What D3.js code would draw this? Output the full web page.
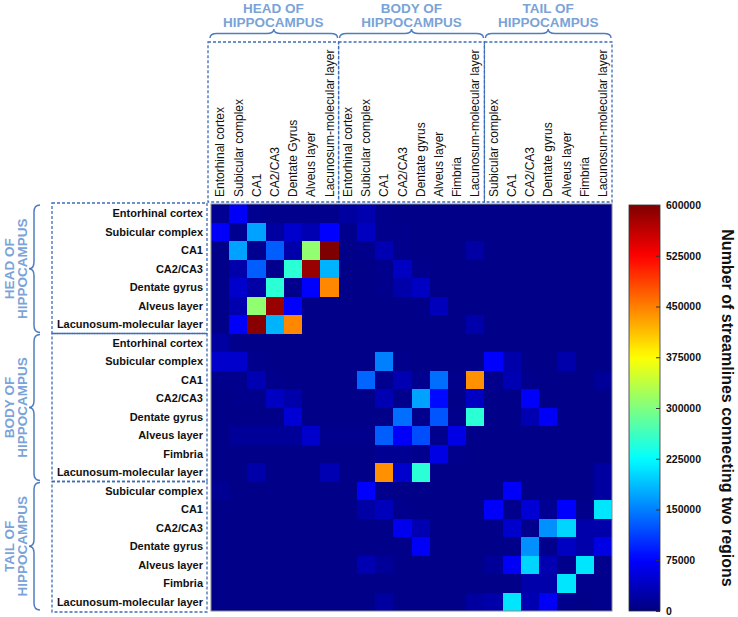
<!DOCTYPE html>
<html><head><meta charset="utf-8">
<script src="https://cdn.jsdelivr.net/npm/d3@7"></script>
<style>body{margin:0;background:#fff} svg{display:block;font-family:"Liberation Sans",Arial,sans-serif}</style>
</head><body><svg id="chart" width="738" height="617"></svg>
<script>
const groupTitles = [["HEAD OF","HIPPOCAMPUS"],["BODY OF","HIPPOCAMPUS"],["TAIL OF","HIPPOCAMPUS"]];
const rowGroupSizes = [7,8,7];
const colGroupSizes = [7,8,7];
const rowLabels = ["Entorhinal cortex","Subicular complex","CA1","CA2/CA3","Dentate gyrus","Alveus layer","Lacunosum-molecular layer",
  "Entorhinal cortex","Subicular complex","CA1","CA2/CA3","Dentate gyrus","Alveus layer","Fimbria","Lacunosum-molecular layer",
  "Subicular complex","CA1","CA2/CA3","Dentate gyrus","Alveus layer","Fimbria","Lacunosum-molecular layer"];
const colLabels = ["Entorhinal cortex","Subicular complex","CA1","CA2/CA3","Dentate Gyrus","Alveus layer","Lacunosum-molecular layer",
  "Entorhinal cortex","Subicular complex","CA1","CA2/CA3","Dentate gyrus","Alveus layer","Fimbria","Lacunosum-molecular layer",
  "Subicular complex","CA1","CA2/CA3","Dentate gyrus","Alveus layer","Fimbria","Lacunosum-molecular layer"];
const colorTicks = [0,75000,150000,225000,300000,375000,450000,525000,600000];
const colorTitle = "Number of streamlines connecting two regions";
const streamlines = [
 [12000,70000,10000,8000,8000,8000,8000,20000,28000,8000,6000,6000,6000,6000,6000,5000,5000,5000,5000,5000,5000,5000],
 [72000,10000,170000,20000,45000,30000,75000,8000,38000,8000,8000,6000,6000,6000,6000,5000,5000,5000,5000,5000,5000,5000],
 [6000,170000,10000,130000,25000,310000,600000,6000,8000,30000,8000,6000,6000,6000,22000,5000,5000,5000,5000,5000,5000,5000],
 [6000,25000,130000,8000,250000,585000,180000,6000,6000,8000,40000,8000,6000,6000,6000,5000,5000,5000,5000,5000,5000,5000],
 [6000,45000,22000,250000,8000,75000,445000,6000,6000,8000,25000,40000,6000,6000,6000,5000,5000,5000,5000,5000,5000,5000],
 [6000,28000,310000,585000,75000,6000,6000,6000,6000,6000,6000,6000,35000,6000,6000,5000,5000,5000,5000,5000,5000,5000],
 [6000,72000,595000,180000,445000,6000,6000,6000,6000,6000,6000,6000,6000,6000,25000,5000,5000,5000,5000,5000,5000,5000],
 [20000,8000,6000,6000,6000,6000,6000,6000,6000,6000,6000,6000,6000,6000,6000,6000,6000,6000,6000,6000,6000,6000],
 [45000,45000,8000,6000,6000,6000,6000,6000,6000,150000,8000,6000,6000,6000,6000,75000,25000,6000,6000,25000,6000,6000],
 [8000,8000,30000,8000,6000,6000,6000,6000,135000,10000,30000,10000,140000,8000,440000,8000,30000,8000,6000,6000,6000,15000],
 [6000,8000,8000,40000,25000,6000,6000,6000,6000,30000,8000,170000,80000,6000,40000,6000,6000,72000,6000,6000,6000,6000],
 [6000,6000,6000,6000,50000,6000,6000,6000,6000,6000,140000,8000,125000,8000,250000,6000,6000,30000,70000,6000,6000,6000],
 [6000,15000,15000,15000,15000,45000,8000,8000,8000,130000,72000,120000,8000,60000,6000,6000,6000,6000,6000,6000,6000,6000],
 [6000,6000,6000,6000,6000,6000,6000,6000,6000,12000,12000,8000,60000,8000,6000,6000,6000,6000,6000,6000,6000,6000],
 [6000,6000,25000,6000,6000,6000,30000,6000,6000,440000,45000,250000,6000,6000,6000,6000,6000,6000,6000,6000,6000,20000],
 [12000,6000,6000,6000,6000,6000,6000,6000,75000,8000,6000,6000,6000,6000,6000,6000,72000,6000,6000,6000,6000,20000],
 [6000,6000,6000,6000,6000,6000,6000,6000,22000,35000,8000,6000,6000,6000,6000,72000,8000,50000,12000,75000,8000,210000],
 [6000,6000,6000,6000,6000,6000,6000,6000,6000,6000,65000,30000,6000,6000,6000,6000,45000,8000,160000,200000,25000,25000],
 [6000,6000,6000,6000,6000,6000,6000,6000,6000,6000,6000,70000,6000,6000,6000,6000,6000,160000,8000,40000,25000,60000],
 [6000,6000,6000,6000,6000,6000,6000,6000,30000,15000,6000,6000,6000,6000,6000,15000,70000,200000,30000,8000,210000,8000],
 [6000,6000,6000,6000,6000,6000,6000,6000,6000,6000,6000,6000,6000,6000,6000,6000,6000,25000,25000,210000,8000,8000],
 [6000,6000,6000,6000,6000,6000,6000,6000,6000,20000,6000,6000,6000,6000,20000,25000,210000,30000,70000,8000,6000,8000]
];

const svg = d3.select("#chart");
const vmax = 600000;
const jet = d3.scaleLinear()
  .domain([0,0.125,0.375,0.625,0.875,1].map(t => t*vmax))
  .range(["#00007f","#0000ff","#00ffff","#ffff00","#ff0000","#7f0000"])
  .interpolate(d3.interpolateRgb).clamp(true);

const n = rowLabels.length;
const x = d3.scaleBand().domain(d3.range(n)).range([211,612]);
const y = d3.scaleBand().domain(d3.range(n)).range([204,611]);

const cells = [];
streamlines.forEach((row,i) => row.forEach((v,j) => cells.push({i,j,v})));
const rx = j => Math.round(x(j)), ry = i => Math.round(y(i));
const rx2 = j => j === n-1 ? 612 : Math.round(x(j+1)), ry2 = i => i === n-1 ? 611 : Math.round(y(i+1));
svg.append("g").attr("shape-rendering","crispEdges").selectAll("rect").data(cells).join("rect")
  .attr("x", d => rx(d.j)).attr("y", d => ry(d.i))
  .attr("width", d => rx2(d.j) - rx(d.j)).attr("height", d => ry2(d.i) - ry(d.i))
  .attr("fill", d => jet(d.v));
svg.append("rect").attr("x",211).attr("y",204).attr("width",401).attr("height",407)
  .attr("fill","none").attr("stroke","#8a8a8a").attr("stroke-width",1);

// Row labels
svg.append("g").selectAll("text").data(rowLabels).join("text")
  .attr("x", 203).attr("y", (d,i) => y(i)+y.bandwidth()/2).attr("dy","0.35em")
  .attr("text-anchor","end").attr("font-size",11).attr("font-weight","bold").attr("fill","#111")
  .text(d => d);
// Column labels
svg.append("g").selectAll("text").data(colLabels).join("text")
  .attr("transform", (d,i) => `translate(${x(i)+x.bandwidth()/2},197) rotate(-90)`)
  .attr("dy","0.35em").attr("text-anchor","start").attr("font-size",12).attr("fill","#111")
  .text(d => d);

// Group boundaries
function bounds(sizes, scale){
  let s = 0; return sizes.map(k => { const a = s; s += k; return [scale(a), scale(s-1)+scale.bandwidth()]; });
}
const colB = bounds(colGroupSizes, x), rowB = bounds(rowGroupSizes, y);
const boxColor = "#3d6cb9", braceColor = "#4f7cc0", titleColor = "#7aa3d8";
const g = svg.append("g").attr("fill","none").attr("stroke",boxColor).attr("stroke-width",1.3).attr("stroke-dasharray","3,2");
colB.forEach(([a,b],k) => {
  const l = k===0 ? a-3 : a, r = b;
  g.append("rect").attr("x",l).attr("y",42).attr("width",r-l).attr("height",202-42);
});
rowB.forEach(([a,b],k) => {
  const t = k===0 ? a-1 : a, bt = k===rowB.length-1 ? b+1 : b;
  g.append("rect").attr("x",52).attr("y",t).attr("width",207-52).attr("height",bt-t);
});

// Braces
function hBrace(x1,x2,yEnd,yFlat,yTip){
  const r=7, xm=(x1+x2)/2;
  return `M${x1},${yEnd} Q${x1},${yFlat} ${x1+r},${yFlat} L${xm-r},${yFlat} Q${xm},${yFlat} ${xm},${yTip} Q${xm},${yFlat} ${xm+r},${yFlat} L${x2-r},${yFlat} Q${x2},${yFlat} ${x2},${yEnd}`;
}
function vBrace(y1,y2,xEnd,xFlat,xTip){
  const r=7, ym=(y1+y2)/2;
  return `M${xEnd},${y1} Q${xFlat},${y1} ${xFlat},${y1+r} L${xFlat},${ym-r} Q${xFlat},${ym} ${xTip},${ym} Q${xFlat},${ym} ${xFlat},${ym+r} L${xFlat},${y2-r} Q${xFlat},${y2} ${xEnd},${y2}`;
}
const br = svg.append("g").attr("fill","none").attr("stroke",braceColor).attr("stroke-width",1.5);
colB.forEach(([a,b],k) => br.append("path").attr("d", hBrace((k===0?a-2:a)+1, b-1, 38, 33.5, 29)));
rowB.forEach(([a,b]) => br.append("path").attr("d", vBrace(a+1, b-1, 40, 34, 29)));

// Group titles
const tg = svg.append("g").attr("fill",titleColor).attr("font-size",13.5).attr("font-weight","bold").attr("text-anchor","middle");
colB.forEach(([a,b],k) => {
  const cx = ((k===0?a-3:a)+b)/2;
  tg.append("text").attr("x",cx).attr("y",12.5).text(groupTitles[k][0]);
  tg.append("text").attr("x",cx).attr("y",26.5).text(groupTitles[k][1]);
});
rowB.forEach(([a,b],k) => {
  const cy = (a+b)/2;
  tg.append("text").attr("transform",`translate(13.5,${cy}) rotate(-90)`).text(groupTitles[k][0]);
  tg.append("text").attr("transform",`translate(26.5,${cy}) rotate(-90)`).text(groupTitles[k][1]);
});

// Colorbar
const cbX = 629, cbW = 31, cbTop = 205, cbBot = 611;
const grad = svg.append("defs").append("linearGradient").attr("id","jetgrad")
  .attr("x1",0).attr("y1",1).attr("x2",0).attr("y2",0);
d3.range(0,1.0001,0.02).forEach(t => grad.append("stop").attr("offset",t).attr("stop-color",jet(t*vmax)));
svg.append("rect").attr("x",cbX).attr("y",cbTop).attr("width",cbW).attr("height",cbBot-cbTop)
  .attr("fill","url(#jetgrad)").attr("stroke","#333").attr("stroke-width",0.8);
const cScale = d3.scaleLinear().domain([0,vmax]).range([cbBot,cbTop]);
const ax = svg.append("g").attr("transform",`translate(${cbX+cbW},0)`)
  .call(d3.axisRight(cScale).tickValues(colorTicks).tickFormat(d3.format("d")).tickSize(-4).tickPadding(6));
ax.select(".domain").remove();
ax.selectAll("line").attr("stroke","#333");
ax.selectAll("text").attr("font-size",10.5).attr("font-weight","bold").attr("fill","#111")
  .attr("font-family",'"Liberation Sans",Arial,sans-serif');
svg.append("text").attr("transform",`translate(722,${(cbTop+cbBot)/2}) rotate(90)`)
  .attr("text-anchor","middle").attr("font-size",16).attr("font-weight","bold").attr("fill","#111")
  .text(colorTitle);
</script></body></html>
